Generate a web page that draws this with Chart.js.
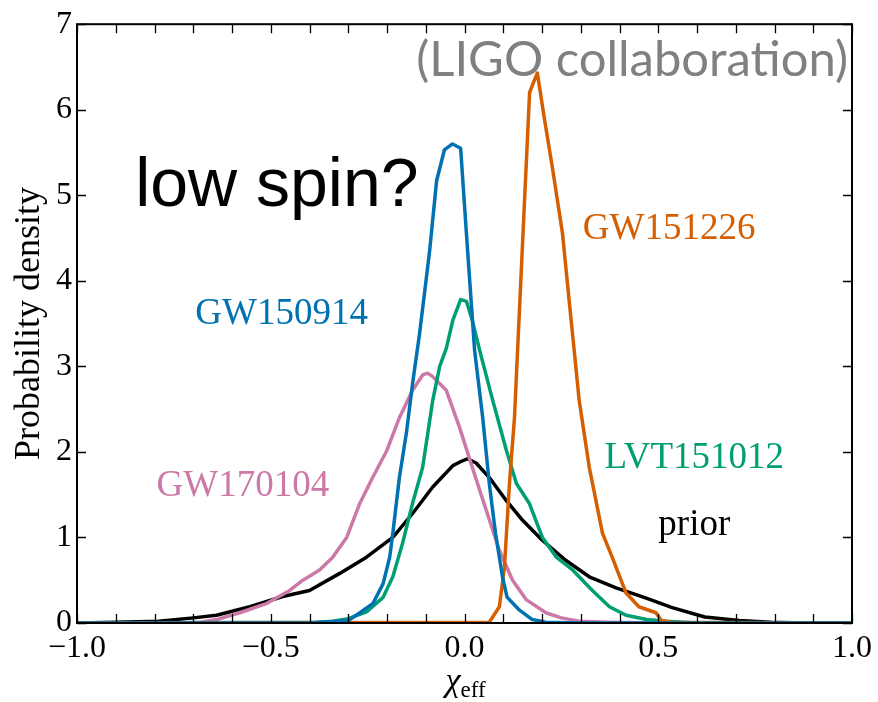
<!DOCTYPE html>
<html lang="en">
<head>
  <meta charset="UTF-8" />
  <title>Effective spin posteriors</title>
  <style>
    body { margin: 0; background: #fff; }
    canvas { display: block; }
  </style>
</head>
<body>
  <canvas id="spinChart" width="878" height="702"></canvas>
  <script src="https://cdn.jsdelivr.net/npm/chart.js"></script>
  <script>
    // values (chi_eff, probability density)
    const gw150914X = [-1.0, -0.4, -0.3, -0.27, -0.236, -0.21, -0.193, -0.185, -0.168, -0.15, -0.134, -0.116, -0.09, -0.072, -0.052, -0.031, -0.01, 0.005, 0.026, 0.047, 0.064, 0.08, 0.098, 0.11, 0.142, 0.175, 0.21, 0.3, 1.0];
    const gw150914Y = [0, 0, 0.03, 0.12, 0.23, 0.46, 0.77, 1.05, 1.70, 2.22, 2.8, 3.38, 4.35, 5.17, 5.53, 5.60, 5.55, 4.55, 3.19, 2.4, 1.63, 1.05, 0.54, 0.30, 0.15, 0.04, 0.01, 0, 0];

    const gw151226X = [-1.0, 0.064, 0.09, 0.103, 0.116, 0.129, 0.137, 0.155, 0.168, 0.172, 0.188, 0.206, 0.227, 0.253, 0.27, 0.283, 0.296, 0.322, 0.356, 0.381, 0.417, 0.45, 0.494, 0.508, 0.536, 1.0];
    const gw151226Y = [0, 0.01, 0.19, 0.65, 1.63, 2.4, 3.19, 4.94, 6.2, 6.25, 6.43, 5.9, 5.32, 4.55, 3.77, 3.19, 2.6, 1.82, 1.05, 0.77, 0.35, 0.19, 0.12, 0.03, 0.01, 0];

    const lvt151012X = [-1.0, -0.38, -0.34, -0.30, -0.253, -0.21, -0.185, -0.16, -0.134, -0.108, -0.082, -0.064, -0.047, -0.03, -0.01, 0.005, 0.02, 0.039, 0.073, 0.108, 0.134, 0.167, 0.201, 0.237, 0.279, 0.33, 0.374, 0.417, 0.47, 0.52, 0.6, 1.0];
    const lvt151012Y = [0, 0.01, 0.02, 0.05, 0.13, 0.3, 0.54, 0.93, 1.4, 1.82, 2.6, 3.0, 3.21, 3.54, 3.78, 3.76, 3.54, 3.19, 2.6, 2.02, 1.63, 1.40, 1.0, 0.77, 0.62, 0.38, 0.19, 0.09, 0.04, 0.02, 0, 0];

    const gw170104X = [-1.0, -0.75, -0.68, -0.64, -0.58, -0.51, -0.451, -0.417, -0.374, -0.34, -0.304, -0.27, -0.237, -0.2, -0.168, -0.134, -0.108, -0.095, -0.082, -0.047, -0.013, 0.02, 0.056, 0.09, 0.124, 0.16, 0.21, 0.25, 0.296, 0.366, 0.5, 1.0];
    const gw170104Y = [0, 0, 0.01, 0.04, 0.12, 0.23, 0.38, 0.5, 0.62, 0.77, 1.0, 1.4, 1.7, 2.02, 2.4, 2.72, 2.9, 2.92, 2.88, 2.72, 2.29, 1.82, 1.32, 0.85, 0.5, 0.27, 0.12, 0.06, 0.02, 0.01, 0, 0];

    const priorX = [-1.0, -0.9, -0.79, -0.7, -0.64, -0.554, -0.469, -0.40, -0.322, -0.253, -0.185, -0.134, -0.082, -0.03, -0.013, 0.008, 0.03, 0.064, 0.108, 0.15, 0.2, 0.262, 0.322, 0.391, 0.469, 0.536, 0.62, 0.709, 0.79, 0.88, 1.0];
    const priorY = [0, 0.01, 0.02, 0.06, 0.09, 0.19, 0.31, 0.38, 0.58, 0.77, 1.0, 1.28, 1.59, 1.84, 1.88, 1.92, 1.87, 1.7, 1.43, 1.2, 0.97, 0.73, 0.54, 0.41, 0.29, 0.18, 0.07, 0.03, 0.01, 0, 0];

    const xTicks = [-1.0, -0.5, 0.0, 0.5, 1.0];
    const yTicks = [0, 1, 2, 3, 4, 5, 6, 7];

    const serif = "'Liberation Serif', 'DejaVu Serif', serif";

    function pts(xs, ys) {
      return xs.map((x, i) => ({ x: x, y: ys[i] }));
    }

    function line(label, xs, ys, color) {
      return {
        label: label,
        data: pts(xs, ys),
        showLine: true,
        borderColor: color,
        backgroundColor: color,
        borderWidth: 3.5,
        borderJoinStyle: 'round',
        pointRadius: 0,
        tension: 0
      };
    }

    // inward ticks on all four sides, frame, labels and axis titles
    const decorations = {
      id: 'decorations',
      afterDraw(chart) {
        const ctx = chart.ctx;
        const a = chart.chartArea;
        const xs = chart.scales.x, ys = chart.scales.y;
        const tick = 9;
        ctx.save();
        ctx.strokeStyle = '#000';
        ctx.lineWidth = 1.3;
        ctx.beginPath();
        for (let v = -10; v <= 10; v++) {
          const px = Math.round(xs.getPixelForValue(v / 10)) + 0.5;
          ctx.moveTo(px, a.bottom); ctx.lineTo(px, a.bottom - tick);
          ctx.moveTo(px, a.top); ctx.lineTo(px, a.top + tick);
        }
        yTicks.forEach(v => {
          const py = Math.round(ys.getPixelForValue(v)) + 0.5;
          ctx.moveTo(a.left, py); ctx.lineTo(a.left + tick, py);
          ctx.moveTo(a.right, py); ctx.lineTo(a.right - tick, py);
        });
        ctx.stroke();
        ctx.lineWidth = 2;
        ctx.strokeRect(a.left, a.top, a.right - a.left, a.bottom - a.top);

        const put = (text, x, y, font, color, align) => {
          ctx.font = font;
          ctx.fillStyle = color;
          ctx.textAlign = align || 'center';
          ctx.textBaseline = 'alphabetic';
          ctx.fillText(text, xs.getPixelForValue(x), ys.getPixelForValue(y));
        };
        put('GW150914', -0.472, 3.5, '37px ' + serif, '#0072B2');
        put('GW151226', 0.528, 4.49, '37px ' + serif, '#D55E00');
        put('LVT151012', 0.593, 1.81, '37px ' + serif, '#009E73');
        put('GW170104', -0.572, 1.49, '37px ' + serif, '#CC79A7');
        put('prior', 0.593, 1.03, '37px ' + serif, '#000');
        put('low spin?', -0.85, 4.88, "68px 'Liberation Sans', Arial, sans-serif", '#000', 'left');
        put('(LIGO collaboration)', 0.99, 6.39, "49px Lato, 'Open Sans', sans-serif", '#808080', 'right');

        // y title
        ctx.save();
        ctx.translate(30, (a.top + a.bottom) / 2);
        ctx.rotate(-Math.PI / 2);
        ctx.font = '36px ' + serif;
        ctx.fillStyle = '#000';
        ctx.textAlign = 'center';
        ctx.textBaseline = 'middle';
        ctx.fillText('Probability density', 0, 0);
        ctx.restore();

        // x title: chi with subscript eff
        ctx.fillStyle = '#000';
        ctx.textAlign = 'left';
        ctx.textBaseline = 'alphabetic';
        ctx.font = 'italic 34px ' + serif;
        const chiW = ctx.measureText('\u03C7').width;
        ctx.font = '23px ' + serif;
        const effW = ctx.measureText('eff').width;
        const x0 = xs.getPixelForValue(0) + 1 - (chiW + effW) / 2;
        ctx.font = 'italic 34px ' + serif;
        ctx.fillText('\u03C7', x0, 691);
        ctx.font = '23px ' + serif;
        ctx.fillText('eff', x0 + chiW, 697);
        ctx.restore();
      }
    };

    new Chart(document.getElementById('spinChart'), {
      type: 'scatter',
      data: {
        datasets: [
          line('GW150914', gw150914X, gw150914Y, '#0072B2'),
          line('GW151226', gw151226X, gw151226Y, '#D55E00'),
          line('LVT151012', lvt151012X, lvt151012Y, '#009E73'),
          line('GW170104', gw170104X, gw170104Y, '#CC79A7'),
          line('prior', priorX, priorY, '#000000')
        ]
      },
      options: {
        responsive: false,
        animation: false,
        events: [],
        layout: { padding: { top: 23, right: 25, left: 0, bottom: 0 } },
        plugins: { legend: { display: false }, tooltip: { enabled: false } },
        scales: {
          x: {
            type: 'linear',
            min: -1, max: 1,
            afterFit(scale) { scale.height = 79; },
            afterBuildTicks(scale) { scale.ticks = xTicks.map(v => ({ value: v })); },
            grid: { display: false, drawTicks: false },
            border: { display: false },
            ticks: {
              padding: 6,
              color: '#000',
              maxRotation: 0,
              font: { family: serif, size: 32 },
              callback: v => (v < 0 ? '\u2212' : '') + Math.abs(v).toFixed(1)
            }
          },
          y: {
            type: 'linear',
            min: 0, max: 7,
            afterFit(scale) { scale.width = 77; },
            afterBuildTicks(scale) { scale.ticks = yTicks.map(v => ({ value: v })); },
            grid: { display: false, drawTicks: false },
            border: { display: false },
            ticks: {
              padding: 5,
              color: '#000',
              font: { family: serif, size: 32 },
              callback: v => String(v)
            }
          }
        }
      },
      plugins: [decorations]
    });
  </script>
</body>
</html>
